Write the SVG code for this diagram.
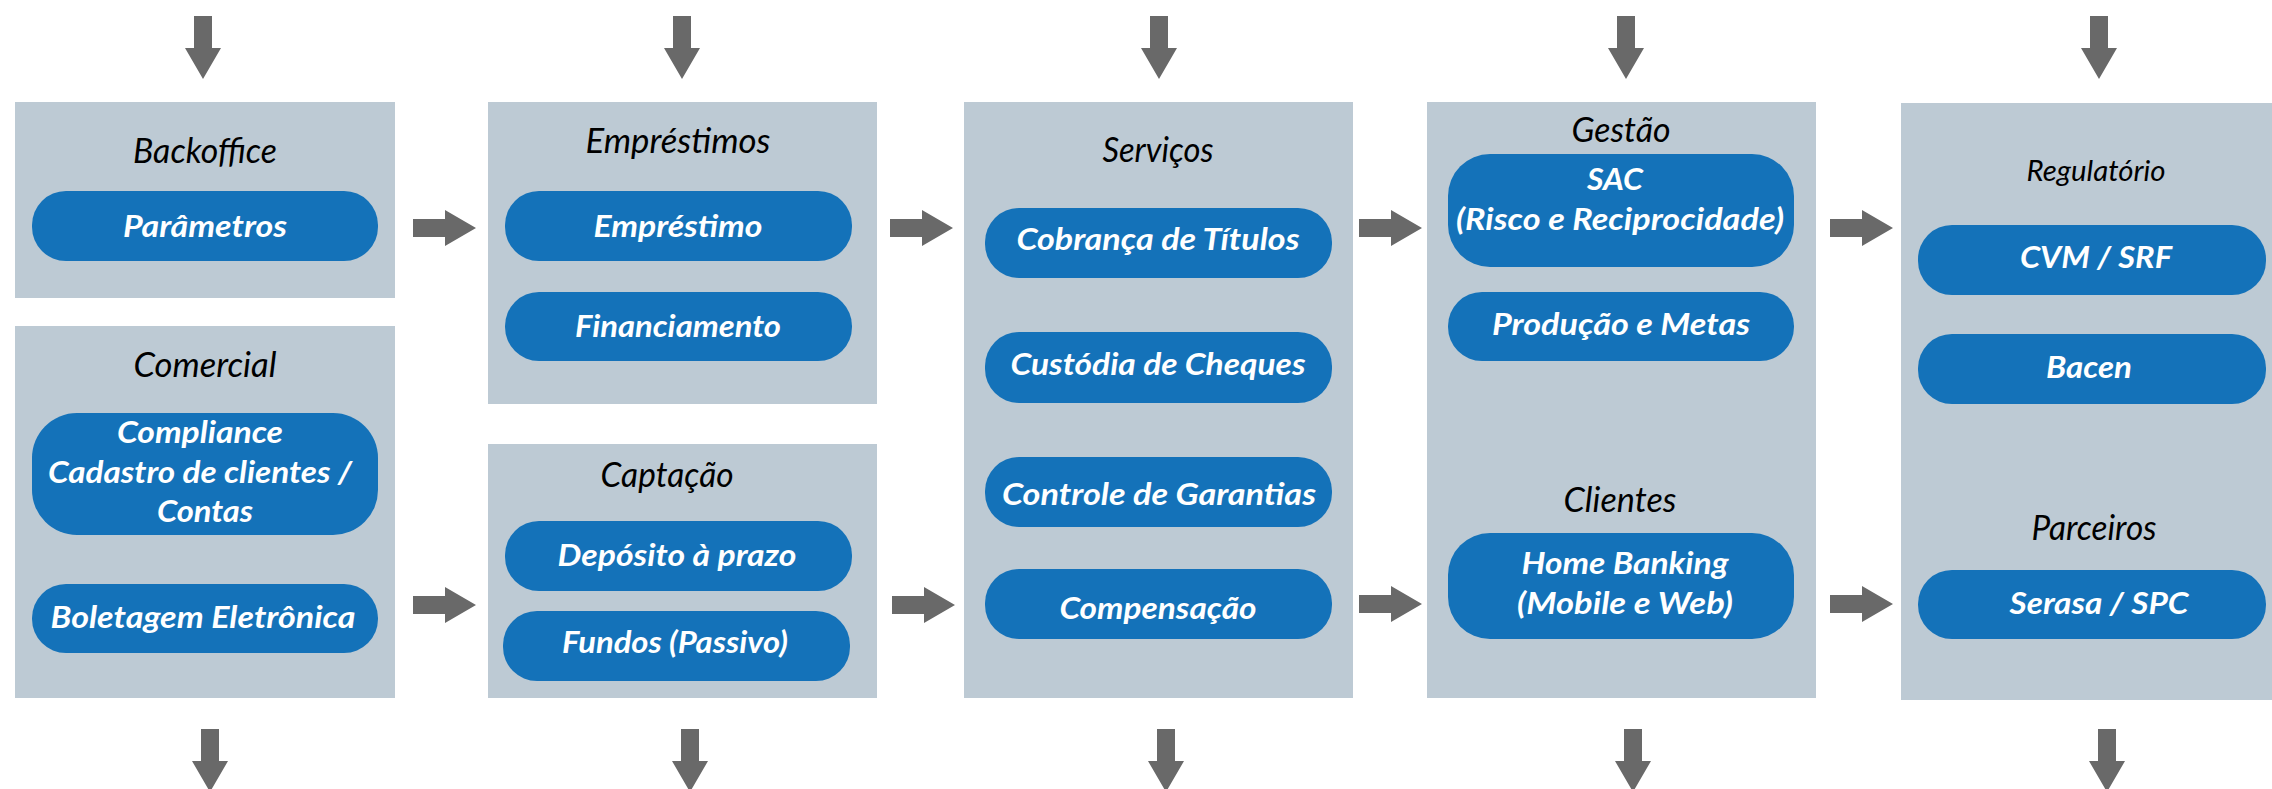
<svg xmlns="http://www.w3.org/2000/svg" xmlns:xlink="http://www.w3.org/1999/xlink" width="2272" height="789" viewBox="0 0 2272 789">
<style>
.panel{fill:#BDCAD4}
.pill{fill:#1472B9}
.title{font-family:Lato,"Open Sans",sans-serif;font-style:italic;font-size:34px;fill:#000;text-anchor:middle}
.small{font-size:29px}
.lbl{font-family:Lato,"Open Sans",sans-serif;font-style:italic;font-weight:bold;font-size:30px;fill:#fff;text-anchor:middle}
.arrow{fill:#696969}
</style>
<defs>
<path id="down" d="M-9,0 H9 V32 H18 L0,63 L-18,32 H-9 Z"/>
<path id="right" d="M0,-9 H32 V-18 L63,0 L32,18 V9 H0 Z"/>
</defs>
<rect width="2272" height="789" fill="#fff"/>
<g id="connectors" class="arrow">
<use xlink:href="#down" x="203" y="16"/>
<use xlink:href="#down" x="682" y="16"/>
<use xlink:href="#down" x="1159" y="16"/>
<use xlink:href="#down" x="1626" y="16"/>
<use xlink:href="#down" x="2099" y="16"/>
<use xlink:href="#down" x="210" y="729"/>
<use xlink:href="#down" x="690" y="729"/>
<use xlink:href="#down" x="1166" y="729"/>
<use xlink:href="#down" x="1633" y="729"/>
<use xlink:href="#down" x="2107" y="729"/>
<use xlink:href="#right" x="413" y="228"/>
<use xlink:href="#right" x="413" y="605"/>
<use xlink:href="#right" x="890" y="228"/>
<use xlink:href="#right" x="892" y="605"/>
<use xlink:href="#right" x="1359" y="228"/>
<use xlink:href="#right" x="1359" y="604"/>
<use xlink:href="#right" x="1830" y="228"/>
<use xlink:href="#right" x="1830" y="604"/>
</g>
<g id="backoffice">
<rect class="panel" x="15" y="102" width="380" height="196"/>
<text class="title" x="205" y="163" textLength="144" lengthAdjust="spacingAndGlyphs">Backoffice</text>
<rect class="pill" x="32" y="191" width="346" height="70" rx="34"/>
<text class="lbl" x="205" y="237" textLength="164" lengthAdjust="spacingAndGlyphs">Parâmetros</text>
</g>
<g id="comercial">
<rect class="panel" x="15" y="326" width="380" height="372"/>
<text class="title" x="205" y="377" textLength="143" lengthAdjust="spacingAndGlyphs">Comercial</text>
<rect class="pill" x="32" y="413" width="346" height="122" rx="45"/>
<text class="lbl" x="200" y="443" textLength="166" lengthAdjust="spacingAndGlyphs">Compliance</text>
<text class="lbl" x="200" y="483" textLength="304" lengthAdjust="spacingAndGlyphs">Cadastro de clientes /</text>
<text class="lbl" x="205" y="522" textLength="96" lengthAdjust="spacingAndGlyphs">Contas</text>
<rect class="pill" x="32" y="584" width="346" height="69" rx="34"/>
<text class="lbl" x="203" y="628" textLength="305" lengthAdjust="spacingAndGlyphs">Boletagem Eletrônica</text>
</g>
<g id="emprestimos">
<rect class="panel" x="488" y="102" width="389" height="302"/>
<text class="title" x="678" y="153" textLength="185" lengthAdjust="spacingAndGlyphs">Empréstimos</text>
<rect class="pill" x="505" y="191" width="347" height="70" rx="34"/>
<text class="lbl" x="678" y="237" textLength="169" lengthAdjust="spacingAndGlyphs">Empréstimo</text>
<rect class="pill" x="505" y="292" width="347" height="69" rx="34"/>
<text class="lbl" x="678" y="337" textLength="206" lengthAdjust="spacingAndGlyphs">Financiamento</text>
</g>
<g id="captacao">
<rect class="panel" x="488" y="444" width="389" height="254"/>
<text class="title" x="667" y="487" textLength="133" lengthAdjust="spacingAndGlyphs">Captação</text>
<rect class="pill" x="505" y="521" width="347" height="70" rx="34"/>
<text class="lbl" x="677" y="566" textLength="239" lengthAdjust="spacingAndGlyphs">Depósito à prazo</text>
<rect class="pill" x="503" y="611" width="347" height="70" rx="34"/>
<text class="lbl" x="675" y="653" textLength="226" lengthAdjust="spacingAndGlyphs">Fundos (Passivo)</text>
</g>
<g id="servicos">
<rect class="panel" x="964" y="102" width="389" height="596"/>
<text class="title" x="1158" y="162" textLength="111" lengthAdjust="spacingAndGlyphs">Serviços</text>
<rect class="pill" x="985" y="208" width="347" height="70" rx="34"/>
<text class="lbl" x="1158" y="250" textLength="283" lengthAdjust="spacingAndGlyphs">Cobrança de Títulos</text>
<rect class="pill" x="985" y="332" width="347" height="71" rx="34"/>
<text class="lbl" x="1158" y="375" textLength="295" lengthAdjust="spacingAndGlyphs">Custódia de Cheques</text>
<rect class="pill" x="985" y="457" width="347" height="70" rx="34"/>
<text class="lbl" x="1159" y="505" textLength="314" lengthAdjust="spacingAndGlyphs">Controle de Garantias</text>
<rect class="pill" x="985" y="569" width="347" height="70" rx="34"/>
<text class="lbl" x="1158" y="619" textLength="197" lengthAdjust="spacingAndGlyphs">Compensação</text>
</g>
<g id="gestao">
<rect class="panel" x="1427" y="102" width="389" height="596"/>
<text class="title" x="1621" y="142" textLength="99" lengthAdjust="spacingAndGlyphs">Gestão</text>
<rect class="pill" x="1448" y="154" width="346" height="113" rx="42"/>
<text class="lbl" x="1615" y="190" textLength="56" lengthAdjust="spacingAndGlyphs">SAC</text>
<text class="lbl" x="1620" y="230" textLength="328" lengthAdjust="spacingAndGlyphs">(Risco e Reciprocidade)</text>
<rect class="pill" x="1448" y="292" width="346" height="69" rx="34"/>
<text class="lbl" x="1621" y="335" textLength="258" lengthAdjust="spacingAndGlyphs">Produção e Metas</text>
<text class="title" x="1620" y="512" textLength="113" lengthAdjust="spacingAndGlyphs">Clientes</text>
<rect class="pill" x="1448" y="533" width="346" height="106" rx="42"/>
<text class="lbl" x="1625" y="574" textLength="207" lengthAdjust="spacingAndGlyphs">Home Banking</text>
<text class="lbl" x="1625" y="614" textLength="216" lengthAdjust="spacingAndGlyphs">(Mobile e Web)</text>
</g>
<g id="regulatorio">
<rect class="panel" x="1901" y="103" width="371" height="597"/>
<text class="title small" x="2096" y="181" textLength="139" lengthAdjust="spacingAndGlyphs">Regulatório</text>
<rect class="pill" x="1918" y="225" width="348" height="70" rx="34"/>
<text class="lbl" x="2096" y="268" textLength="152" lengthAdjust="spacingAndGlyphs">CVM / SRF</text>
<rect class="pill" x="1918" y="334" width="348" height="70" rx="34"/>
<text class="lbl" x="2089" y="378" textLength="86" lengthAdjust="spacingAndGlyphs">Bacen</text>
<text class="title" x="2094" y="540" textLength="125" lengthAdjust="spacingAndGlyphs">Parceiros</text>
<rect class="pill" x="1918" y="570" width="348" height="69" rx="34"/>
<text class="lbl" x="2099" y="614" textLength="179" lengthAdjust="spacingAndGlyphs">Serasa / SPC</text>
</g>
</svg>
